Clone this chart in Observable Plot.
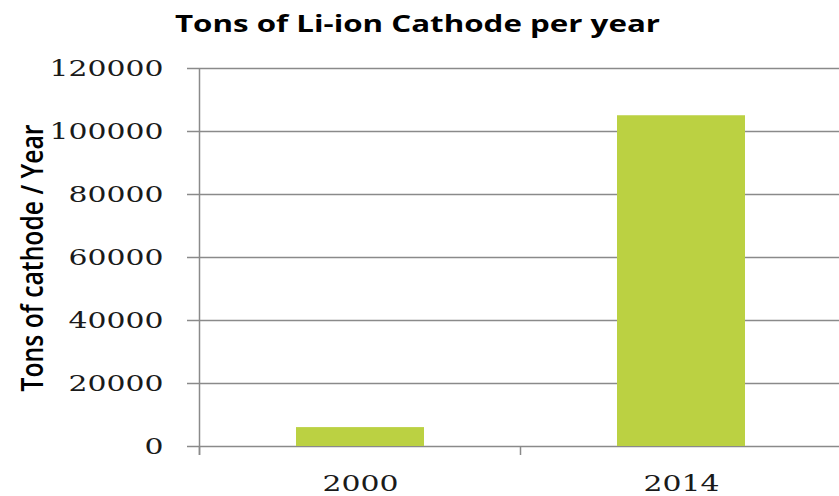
<!DOCTYPE html>
<html><head><meta charset="utf-8">
<script src="https://cdn.jsdelivr.net/npm/d3@7"></script>
<script src="https://cdn.jsdelivr.net/npm/@observablehq/plot@0.6"></script>
<style>
html,body{margin:0;padding:0;overflow:hidden;background:#fff;width:839px;height:496px}
#chart svg{display:block;overflow:visible}
</style></head><body><div id="chart"></div>
<script>
const title = "Tons of Li-ion Cathode per year";
const yLabel = "Tons of cathode / Year";
const years = ["2000", "2014"];
const tons = [6000, 105000];
const yTicks = [0, 20000, 40000, 60000, 80000, 100000, 120000];

const data = years.map((y, i) => ({year: y, tons: tons[i]}));
const grey = "#8a8a8a";

const plot = Plot.plot({
  width: 839, height: 496,
  marginLeft: 200, marginRight: -3, marginTop: 68, marginBottom: 50,
  style: {background: "transparent", fontFamily: "DejaVu Serif", fontSize: "23px", color: "#1a1a1a", overflow: "visible"},
  x: {domain: years, paddingInner: 0.6, paddingOuter: 0.3, label: null},
  y: {domain: [0, 120000], label: null},
  marks: [
    Plot.gridY(yTicks, {stroke: grey, strokeOpacity: 1, strokeWidth: 1.5}),
    Plot.barY(data, {x: "year", y: "tons", fill: "#bbd142"}),
    Plot.axisY(yTicks, {tickSize: 13, tickPadding: 24, tickFormat: d => String(d), stroke: grey, strokeWidth: 1.5, strokeOpacity: 1, fontSize: 23, label: null}),
    Plot.axisX({tickSize: 0, tickPadding: 28, fontSize: 23, label: null})
  ]
});
document.getElementById("chart").appendChild(plot);

const x = plot.scale("x"), y = plot.scale("y");
const svg = d3.select(plot);
// widen tick labels to match the horizontally stretched original
svg.selectAll("[aria-label^='y-axis tick label'] text, [aria-label^='x-axis tick label'] text")
  .each(function() { const n = this.textContent.length; this.setAttribute("textLength", n * 19); this.setAttribute("lengthAdjust", "spacingAndGlyphs"); });

const step = x.step, bw = x.bandwidth;
const bounds = [];
years.forEach((yr, i) => { const c = x.apply(yr) + bw / 2; if (i === 0) bounds.push(c - step / 2); bounds.push(c + step / 2); });
const y0 = y.apply(0), yTop = y.apply(120000);
const g = svg.append("g").attr("stroke", grey).attr("stroke-width", 1.5);
bounds.forEach(b => g.append("line").attr("x1", b).attr("x2", b).attr("y1", y0).attr("y2", y0 + 9));
g.append("line").attr("x1", bounds[0]).attr("x2", bounds[0]).attr("y1", yTop).attr("y2", y0 + 9);

svg.append("text").text(title)
  .attr("x", 417.5).attr("y", 32).attr("text-anchor", "middle")
  .attr("textLength", 485).attr("lengthAdjust", "spacingAndGlyphs")
  .attr("font-family", "Open Sans").attr("font-weight", "bold").attr("font-size", 24).attr("fill", "#000");
svg.append("text").text(yLabel)
  .attr("transform", `translate(43,258) scale(1.15,1) rotate(-90)`).attr("text-anchor", "middle")
  .attr("textLength", 267).attr("lengthAdjust", "spacingAndGlyphs")
  .attr("font-family", "Open Sans").attr("font-weight", 600).attr("font-size", 27).attr("fill", "#000");
</script></body></html>
